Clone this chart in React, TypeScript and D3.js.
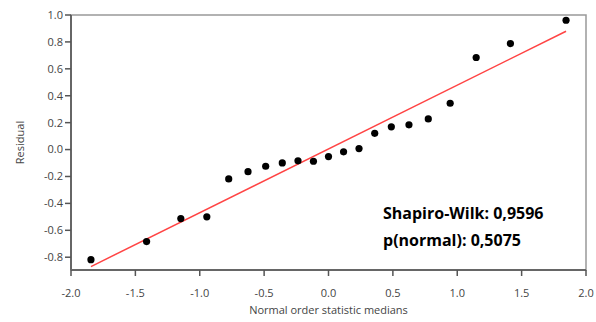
import React from "react";
import * as d3 from "d3";

const xMedians = [-1.845, -1.413, -1.147, -0.945, -0.775, -0.625, -0.488, -0.359, -0.237, -0.117, 0.0, 0.117, 0.237, 0.359, 0.488, 0.625, 0.775, 0.945, 1.147, 1.413, 1.845];
const residuals = [-0.818, -0.684, -0.513, -0.5, -0.218, -0.164, -0.124, -0.099, -0.084, -0.087, -0.052, -0.017, 0.007, 0.121, 0.169, 0.184, 0.228, 0.344, 0.684, 0.788, 0.961];
const fitIntercept = 0.005;
const fitSlope = 0.474;
const xTicks = [-2.0, -1.5, -1.0, -0.5, 0.0, 0.5, 1.0, 1.5, 2.0];
const yTicks = [-0.8, -0.6, -0.4, -0.2, 0.0, 0.2, 0.4, 0.6, 0.8, 1.0];
const statLines = ["Shapiro-Wilk: 0,9596", "p(normal): 0,5075"];

const W = 596, H = 322;
const L = 71, R = 586, T = 15, B = 270;
const font = "'Open Sans', 'Noto Sans', sans-serif";

export default function App() {
  const x = d3.scaleLinear().domain([-2, 2]).range([L, R]);
  const y = d3.scaleLinear().domain([-0.895, 1.0]).range([B, T]);
  const x0 = d3.min(xMedians)!, x1 = d3.max(xMedians)!;
  const line = d3.line<number>().x((d) => x(d)).y((d) => y(fitIntercept + fitSlope * d));
  return (
    <svg width={W} height={H} style={{ position: "absolute", left: 0, top: 0, background: "#fff" }}>
      <rect x={L} y={T} width={R - L} height={B - T} fill="none" stroke="#999" strokeWidth={1.5} />
      <line x1={L} x2={L} y1={T} y2={B} stroke="#666" strokeWidth={2} />
      <line x1={L} x2={R} y1={B} y2={B} stroke="#666" strokeWidth={2} />
      {yTicks.map((t) => (
        <g key={"y" + t}>
          <line x1={L - 6} x2={L} y1={y(t)} y2={y(t)} stroke="#555" strokeWidth={1.5} />
          <text x={L - 8} y={y(t)} dy="0.35em" textAnchor="end" fontFamily={font} fontSize={11} fill="#444">
            {t.toFixed(1)}
          </text>
        </g>
      ))}
      {xTicks.map((t) => (
        <g key={"x" + t}>
          <line x1={x(t)} x2={x(t)} y1={B} y2={B + 6} stroke="#555" strokeWidth={1.5} />
          <text x={x(t)} y={B + 23} dy="0.35em" textAnchor="middle" fontFamily={font} fontSize={11} fill="#444">
            {t.toFixed(1)}
          </text>
        </g>
      ))}
      <text transform={`translate(20,${(T + B) / 2}) rotate(-90)`} textAnchor="middle" dy="0.35em" fontFamily={font} fontSize={11} fill="#444">
        Residual
      </text>
      <text x={(L + R) / 2} y={314} textAnchor="middle" fontFamily={font} fontSize={11} fill="#444">
        Normal order statistic medians
      </text>
      <path d={line([x0, x1]) ?? ""} stroke="#f44" strokeWidth={1.5} fill="none" />
      {xMedians.map((m, i) => (
        <circle key={i} cx={x(m)} cy={y(residuals[i])} r={3.6} fill="#000" />
      ))}
      {statLines.map((s, i) => (
        <text key={s} x={383} y={219 + i * 27} fontFamily={font} fontWeight="bold" fontSize={16} fill="#000">
          {s}
        </text>
      ))}
    </svg>
  );
}
